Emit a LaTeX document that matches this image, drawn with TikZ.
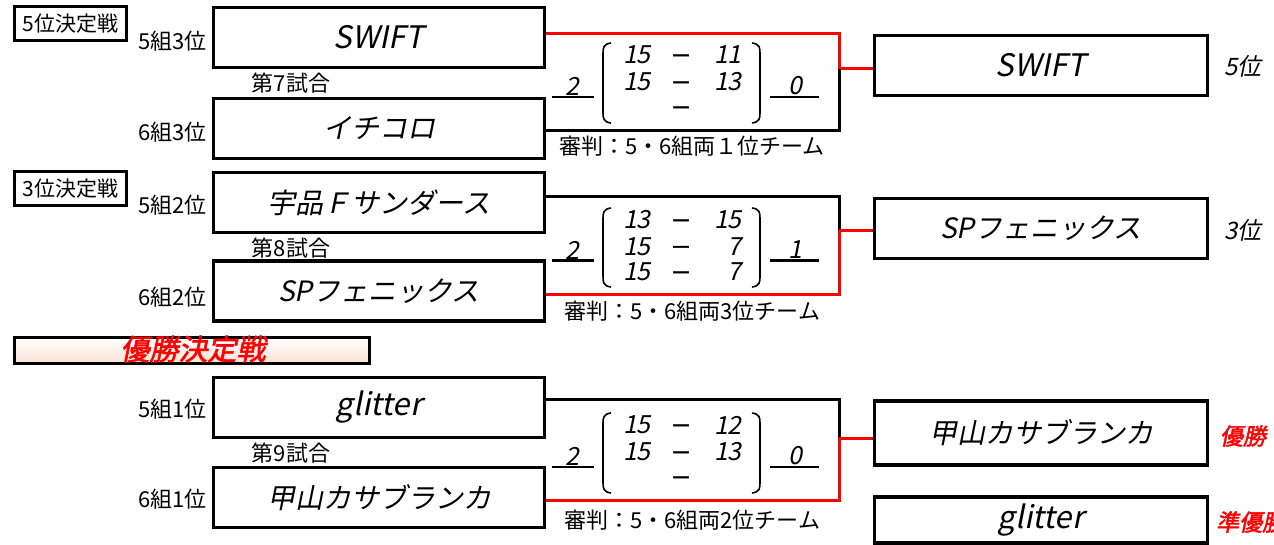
\documentclass[tikz,border=0pt]{standalone}
\usepackage{fontspec}
\setmainfont{Noto Sans CJK JP}
\newfontfamily\jpit[FakeSlant=0.2]{Noto Sans CJK JP}
\newfontfamily\jpbi[FakeSlant=0.2,FakeBold=2]{Noto Sans CJK JP}
\newfontfamily\jpbold[FakeBold=2.5]{Noto Sans CJK JP}
\definecolor{peach}{RGB}{251,226,212}
\definecolor{bred}{RGB}{255,0,0}
\tikzset{
  team/.style={draw, line width=3.5pt, minimum width=331pt, minimum height=60pt, inner sep=0pt, font=\jpit\fontsize{28}{30}\selectfont},
  latin/.style={font=\jpit\fontsize{31}{33}\selectfont},
  final/.style={team, minimum width=333pt},
  hdrbox/.style={draw, line width=3.5pt, minimum width=112pt, minimum height=34pt, inner sep=0pt, font=\fontsize{21}{23}\selectfont},
  lbl/.style={inner sep=0pt, font=\fontsize{22}{24}\selectfont},
  num/.style={inner sep=0pt, font=\jpit\fontsize{25}{27}\selectfont},
  dsh/.style={inner sep=0pt, font=\jpbold\fontsize{21}{23}\selectfont},
  bl/.style={line width=3pt},
  ul/.style={line width=2.5pt},
  par/.style={line width=1.6pt},
  rank/.style={inner sep=0pt, font=\jpit\fontsize{24}{26}\selectfont},
  rrank/.style={inner sep=0pt, text=bred, font=\jpbi\fontsize{23}{25}\selectfont},
}
\begin{document}
\begin{tikzpicture}[x=1pt,y=-1pt]
\clip (0,0) rectangle (1274,545);
\fill[white] (0,0) rectangle (1274,545);

% ===== Section 1: 5位決定戦 =====
\node[hdrbox] (h1) at (70.5,23.5) {5位決定戦};
\node[lbl, anchor=east] (g53) at (207,41) {5組3位};
\node[lbl, anchor=east] (g63) at (207,132) {6組3位};
\node[team, latin] (t11) at (379,37.5) {SWIFT};
\node[team] (t12) at (379,128.5) {イチコロ};
\node[lbl] (m7) at (291,83) {第7試合};
\node[final, latin] (f1) at (1041,65.5) {SWIFT};
\node[rank] (r1) at (1243,66) {5位};
\coordinate (a1) at (t11.east |- 0,34);
\coordinate (b1) at (839,34);
\coordinate (c1) at (839,69);
\coordinate (d1) at (839,131);
\coordinate (e1) at (t12.east |- 0,131);
\draw[bl, bred] (a1) -- (b1) -- (c1) -- (f1.west |- c1);
\draw[bl] (c1) -- (d1) -- (e1);
\node[num] (l1) at (572,86) {2};
\node[num] (w1) at (795,86) {0};
\draw[ul] (552,97) coordinate (u1a) -- (594,97) coordinate (u1b);
\draw[ul] (770,97) coordinate (v1a) -- (819,97) coordinate (v1b);
\node[num, anchor=east] (p11) at (651,55) {15};
\node[dsh] (q11) at (681,59) {－};
\node[num, anchor=east] (s11) at (742,55) {11};
\node[num, anchor=east] (p12) at (651,82) {15};
\node[dsh] (q12) at (681,86) {－};
\node[num, anchor=east] (s12) at (742,82) {13};
\node[dsh] (q13) at (681,111) {－};
\draw[par] (611,43) .. controls (603,44) and (603,48) .. (603,54) -- (603,112) .. controls (603,118) and (603,122) .. (611,123);
\draw[par] (752,43) .. controls (760,44) and (760,48) .. (760,54) -- (760,112) .. controls (760,118) and (760,122) .. (752,123);
\node[lbl] (ref1) at (692,146) {審判：5・6組両１位チーム};

% ===== Section 2: 3位決定戦 =====
\node[hdrbox] (h2) at (70.5,188.5) {3位決定戦};
\node[lbl, anchor=east] (g52) at (207,205) {5組2位};
\node[lbl, anchor=east] (g62) at (207,297) {6組2位};
\node[team] (t21) at (379,202.5) {宇品Ｆサンダース};
\node[team] (t22) at (379,291) {SPフェニックス};
\node[lbl] (m8) at (291,248) {第8試合};
\node[final] (f2) at (1041,228.5) {SPフェニックス};
\node[rank] (r2) at (1243,230) {3位};
\coordinate (a2) at (t21.east |- 0,197);
\coordinate (b2) at (839,197);
\coordinate (c2) at (839,231);
\coordinate (d2) at (839,295);
\coordinate (e2) at (t22.east |- 0,295);
\draw[bl] (a2) -- (b2) -- (c2);
\draw[bl, bred] (c2) -- (d2) -- (e2);
\draw[bl, bred] (c2) -- (f2.west |- c2);
\node[num] (l2) at (572,250) {2};
\node[num] (w2) at (795,250) {1};
\draw[ul] (552,260.5) coordinate (u2a) -- (594,260.5) coordinate (u2b);
\draw[ul] (770,260.5) coordinate (v2a) -- (819,260.5) coordinate (v2b);
\node[num, anchor=east] (p21) at (651,220) {13};
\node[dsh] (q21) at (681,224) {－};
\node[num, anchor=east] (s21) at (742,220) {15};
\node[num, anchor=east] (p22) at (651,246.5) {15};
\node[dsh] (q22) at (681,250.5) {－};
\node[num, anchor=east] (s22) at (742,246.5) {7};
\node[num, anchor=east] (p23) at (651,272) {15};
\node[dsh] (q23) at (681,276) {－};
\node[num, anchor=east] (s23) at (742,272) {7};
\draw[par] (611,208) .. controls (603,209) and (603,213) .. (603,219) -- (603,276) .. controls (603,282) and (603,286) .. (611,287);
\draw[par] (752,208) .. controls (760,209) and (760,213) .. (760,219) -- (760,276) .. controls (760,282) and (760,286) .. (752,287);
\node[lbl] (ref2) at (692,311) {審判：5・6組両3位チーム};

% ===== Section 3: 優勝決定戦 =====
\node[draw, line width=3.5pt, top color=white, bottom color=peach, minimum width=355pt, minimum height=26pt, inner sep=0pt] (h3) at (192,350.5) {};
\node[inner sep=0pt, text=bred, font=\jpbi\fontsize{29}{31}\selectfont] (h3t) at (193,349) {優勝決定戦};
\node[lbl, anchor=east] (g51) at (207,409) {5組1位};
\node[lbl, anchor=east] (g61) at (207,499) {6組1位};
\node[team, latin] (t31) at (379,407.5) {glitter};
\node[team] (t32) at (379,497.5) {甲山カサブランカ};
\node[lbl] (m9) at (291,453) {第9試合};
\node[final, minimum height=64pt] (f3) at (1041,433) {甲山カサブランカ};
\node[final, latin, minimum height=46pt] (f4) at (1041,520) {glitter};
\node[rrank] (r3) at (1243,436) {優勝};
\node[rrank, anchor=west] (r4) at (1216,522) {準優勝};
\coordinate (a3) at (t31.east |- 0,399);
\coordinate (b3) at (839,399);
\coordinate (c3) at (839,438);
\coordinate (d3) at (839,500);
\coordinate (e3) at (t32.east |- 0,500);
\draw[bl] (a3) -- (b3) -- (c3);
\draw[bl, bred] (c3) -- (d3) -- (e3);
\draw[bl, bred] (c3) -- (f3.west |- c3);
\node[num] (l3) at (572,456) {2};
\node[num] (w3) at (795,456) {0};
\draw[ul] (552,467) coordinate (u3a) -- (594,467) coordinate (u3b);
\draw[ul] (770,467) coordinate (v3a) -- (819,467) coordinate (v3b);
\node[num, anchor=east] (p31) at (651,425) {15};
\node[dsh] (q31) at (681,429) {－};
\node[num, anchor=east] (s31) at (742,425) {12};
\node[num, anchor=east] (p32) at (651,452) {15};
\node[dsh] (q32) at (681,456) {－};
\node[num, anchor=east] (s32) at (742,452) {13};
\node[dsh] (q33) at (681,481) {－};
\draw[par] (611,413) .. controls (603,414) and (603,418) .. (603,424) -- (603,482) .. controls (603,488) and (603,492) .. (611,493);
\draw[par] (752,413) .. controls (760,414) and (760,418) .. (760,424) -- (760,482) .. controls (760,488) and (760,492) .. (752,493);
\node[lbl] (ref3) at (692,520) {審判：5・6組両2位チーム};
\end{tikzpicture}
\end{document}
